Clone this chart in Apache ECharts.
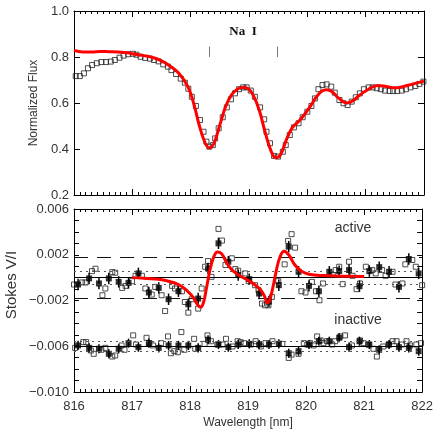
<!DOCTYPE html>
<html>
<head>
<meta charset="utf-8">
<script src="https://cdn.jsdelivr.net/npm/echarts@6.0.0/dist/echarts.min.js"></script>
<style>
  html, body { margin: 0; padding: 0; background: #fff; }
  #main { width: 436px; height: 436px; }
</style>
</head>
<body>
<div id="main"></div>
<script>
// ---- top panel: intensity profile ----
const fluxWl = [816.03,816.10,816.17,816.24,816.31,816.39,816.47,816.55,816.63,816.70,816.78,816.85,816.93,817.01,817.07,817.14,817.22,817.30,817.37,817.45,817.53,817.61,817.67,817.75,817.83,817.90,817.96,818.02,818.09,818.16,818.22,818.27,818.32,818.38,818.42,818.48,818.55,818.62,818.69,818.76,818.83,818.90,818.96,819.03,819.10,819.19,819.26,819.30,819.36,819.43,819.50,819.58,819.63,819.70,819.77,819.85,819.92,820.00,820.07,820.13,820.19,820.26,820.33,820.41,820.47,820.55,820.62,820.69,820.76,820.83,820.90,820.97,821.05,821.12,821.19,821.26,821.33,821.41,821.47,821.54,821.62,821.69,821.77,821.85,821.92,821.99];
const fluxObs = [0.717,0.717,0.729,0.751,0.765,0.773,0.778,0.778,0.780,0.787,0.797,0.806,0.812,0.814,0.810,0.801,0.796,0.793,0.787,0.781,0.768,0.758,0.743,0.726,0.706,0.688,0.662,0.627,0.587,0.526,0.475,0.432,0.410,0.417,0.446,0.490,0.538,0.581,0.616,0.642,0.660,0.668,0.668,0.654,0.627,0.581,0.529,0.475,0.425,0.370,0.367,0.388,0.417,0.461,0.494,0.512,0.538,0.562,0.587,0.620,0.660,0.678,0.681,0.671,0.645,0.613,0.599,0.591,0.606,0.625,0.642,0.660,0.668,0.668,0.664,0.660,0.654,0.652,0.652,0.652,0.654,0.660,0.668,0.674,0.683,0.693];
const fluxModelWl = [816.00,816.15,816.30,816.45,816.60,816.75,816.90,817.05,817.20,817.35,817.50,817.65,817.80,817.95,818.05,818.15,818.25,818.32,818.40,818.50,818.60,818.70,818.80,818.90,818.98,819.08,819.18,819.28,819.38,819.46,819.54,819.64,819.74,819.85,819.95,820.05,820.15,820.25,820.33,820.42,820.52,820.62,820.68,820.78,820.90,821.05,821.20,821.35,821.50,821.65,821.80,822.00];
const fluxModel = [0.828,0.822,0.822,0.824,0.823,0.822,0.818,0.812,0.806,0.798,0.783,0.760,0.728,0.672,0.600,0.500,0.425,0.405,0.425,0.505,0.585,0.635,0.660,0.667,0.663,0.630,0.565,0.470,0.390,0.362,0.375,0.440,0.492,0.520,0.550,0.585,0.625,0.652,0.658,0.650,0.625,0.605,0.600,0.610,0.635,0.660,0.676,0.672,0.666,0.672,0.682,0.695];
const naLines = [818.32, 819.49];

// ---- bottom panel: Stokes V/I, in units of 1e-3 ----
const binWl = [816.07,816.26,816.43,816.60,816.77,816.94,817.11,817.29,817.46,817.63,817.80,817.97,818.14,818.31,818.49,818.66,818.83,819.02,819.19,819.36,819.53,819.70,819.87,820.05,820.22,820.40,820.57,820.74,820.92,821.09,821.26,821.43,821.60,821.77,821.94];
const activeBin = [-0.60,-0.07,-0.51,-0.07,-0.37,-0.46,0.37,-1.30,-0.90,-1.89,-1.19,-2.33,-1.83,0.81,3.00,1.39,0.22,-0.13,-1.39,-2.10,-0.66,2.71,0.51,-0.72,-1.19,0.51,0.57,0.66,-0.75,0.57,0.92,0.51,-0.81,1.63,0.37];
const inactiveBin = [-5.93,-6.14,-6.22,-6.66,-6.22,-5.73,-6.08,-5.73,-6.14,-5.93,-5.93,-5.93,-6.14,-5.43,-5.85,-6.08,-5.85,-5.79,-5.85,-5.85,-5.79,-6.61,-6.43,-5.85,-5.56,-5.56,-5.26,-6.08,-5.56,-5.85,-6.31,-5.85,-6.08,-6.14,-6.43];
const activeErr = 0.5;
const inactiveErr = 0.4;

const activeWl = [816.00,816.14,816.20,816.31,816.37,816.49,816.54,816.66,816.71,816.83,816.89,817.00,817.06,817.17,817.23,817.34,817.40,817.51,817.57,817.69,817.74,817.86,817.91,817.97,818.03,818.14,818.20,818.26,818.31,818.37,818.49,818.55,818.61,818.72,818.78,818.83,818.95,819.01,819.12,819.18,819.24,819.29,819.35,819.41,819.52,819.63,819.69,819.75,819.81,819.92,819.99,820.10,820.17,820.23,820.29,820.46,820.51,820.57,820.63,820.74,820.80,820.87,820.93,821.03,821.14,821.20,821.31,821.37,821.49,821.54,821.66,821.71,821.83,821.89,822.00];
const activeRaw = [-0.60,-0.42,-0.42,0.57,0.78,-1.54,-0.95,0.48,0.43,-0.90,-0.72,-0.31,0.16,0.16,-0.95,-1.48,-0.81,-1.54,-2.92,-0.72,-0.95,-1.19,-2.13,-3.06,-1.89,-2.71,-0.95,0.95,1.45,0.07,4.26,3.24,1.10,1.69,0.75,0.60,0.37,-0.31,-0.66,-1.10,-2.27,-2.42,-2.42,-1.69,-0.31,1.16,3.21,3.80,2.62,-1.19,-1.30,-0.37,-1.19,-1.98,-0.51,0.22,0.66,0.95,-0.57,1.39,0.16,-1.01,-0.51,0.95,0.66,0.37,0.66,0.16,0.51,-0.60,-0.51,1.16,1.54,0.95,-0.66];
const inactiveWl = [816.02,816.16,816.21,816.29,816.34,816.47,816.54,816.66,816.71,816.82,816.87,817.02,817.07,817.25,817.30,817.36,817.50,817.62,817.67,817.73,817.79,817.85,817.90,818.07,818.09,818.25,818.30,818.36,818.47,818.56,818.62,818.73,818.82,818.87,818.93,819.05,819.13,819.22,819.30,819.42,819.59,819.70,819.75,819.87,819.96,820.02,820.07,820.13,820.19,820.25,820.30,820.36,820.45,820.50,820.59,820.67,820.79,820.93,820.99,821.07,821.16,821.22,821.33,821.42,821.49,821.56,821.65,821.73,821.79,821.90,821.98];
const inactiveRaw = [-6.14,-5.64,-5.64,-6.37,-6.66,-6.31,-6.14,-6.90,-6.81,-5.93,-6.31,-5.05,-5.85,-5.26,-5.73,-5.93,-5.73,-5.14,-6.61,-6.43,-6.52,-4.76,-6.31,-5.35,-6.22,-5.79,-5.05,-5.56,-5.85,-5.85,-5.35,-6.02,-5.56,-5.64,-5.73,-5.85,-5.56,-6.02,-5.73,-5.56,-5.79,-7.02,-6.73,-6.66,-5.73,-5.85,-5.73,-5.93,-5.14,-5.49,-5.73,-5.56,-5.85,-5.56,-5.14,-5.05,-5.93,-5.49,-5.73,-5.85,-6.22,-6.90,-6.02,-5.85,-5.56,-5.56,-5.85,-5.56,-5.93,-5.85,-5.73];

const vModelWl = [817.00,817.20,817.40,817.60,817.80,817.95,818.05,818.12,818.18,818.23,818.28,818.34,818.40,818.47,818.54,818.62,818.70,818.80,818.95,819.10,819.22,819.29,819.33,819.37,819.43,819.49,819.55,819.62,819.70,819.80,819.92,820.05,820.30,820.60,821.00];
const vModel = [0.00,-0.05,-0.12,-0.28,-0.60,-1.15,-1.70,-2.30,-2.60,-2.20,-1.00,0.60,1.70,2.25,2.10,1.40,0.80,0.35,-0.10,-0.55,-1.10,-1.70,-2.20,-2.00,-0.80,0.70,1.80,2.30,2.00,1.15,0.55,0.30,0.18,0.13,0.10];

// reference levels
const activeZero = 0, activeDash = 1.8, activeDot = 0.6;
const inactiveZero = -6, inactiveDotHi = -5.55, inactiveDotLo = -6.4;

const FONT = 'Liberation Sans';
const zip = (a, b) => a.map((v, i) => [v, b[i]]);

const xAxisOf = (grid, pos, labels) => ({
    type: 'value', gridIndex: grid, position: pos,
    min: 816, max: 822, interval: 1,
    axisLine: { show: true, onZero: false, lineStyle: { color: '#000', width: 1 } },
    axisTick: { show: true, inside: true, length: 6, lineStyle: { color: '#000' } },
    minorTick: { show: true, splitNumber: 10, length: 3, lineStyle: { color: '#000' } },
    axisLabel: { show: labels, margin: 8, fontSize: 13, color: '#333', fontFamily: FONT },
    splitLine: { show: false },
    name: labels ? 'Wavelength [nm]' : '',
    nameLocation: 'middle', nameGap: 25,
    nameTextStyle: { fontSize: 12, color: '#333', fontFamily: FONT }
});

const fluxY = (pos, labels) => ({
    type: 'value', gridIndex: 0, position: pos,
    min: 0.2, max: 1.0, interval: 0.2,
    axisLine: { show: true, onZero: false, lineStyle: { color: '#000' } },
    axisTick: { show: true, inside: true, length: 6, lineStyle: { color: '#000' } },
    axisLabel: { show: labels, margin: 5, fontSize: 13, color: '#333', fontFamily: FONT,
        formatter: v => v.toFixed(1) },
    splitLine: { show: false },
    name: labels ? 'Normalized Flux' : '',
    nameLocation: 'middle', nameGap: 28,
    nameTextStyle: { fontSize: 12, color: '#333', fontFamily: FONT }
});

const stokesY = (pos, labels) => ({
    type: 'value', gridIndex: 1, position: pos,
    min: -10, max: 6, interval: 1,
    axisLine: { show: true, onZero: false, lineStyle: { color: '#000' } },
    axisTick: { show: true, inside: true, length: 5, lineStyle: { color: '#000' } },
    axisLabel: { show: labels, margin: 5, fontSize: 13, color: '#333', fontFamily: FONT,
        showMinLabel: true, showMaxLabel: true,
        formatter: v => {
            const r = Math.round(v);
            if ((r + 10) % 4 !== 0) return '';
            const s = (Math.abs(r) / 1000).toFixed(3);
            return r < 0 ? '\u2212' + s : s;
        } },
    splitLine: { show: false }
});

const hollow = { color: 'rgba(0,0,0,0)', borderColor: '#222', borderWidth: 1 };

const errorBars = (data, err) => ({
    type: 'custom', xAxisIndex: 2, yAxisIndex: 2, z: 3,
    data: data.map(d => [d[0], d[1], err]),
    encode: { x: 0, y: 1 },
    renderItem: (params, api) => {
        const x = api.value(0), y = api.value(1), e = api.value(2);
        const p1 = api.coord([x, y + e]);
        const p2 = api.coord([x, y - e]);
        return { type: 'line', shape: { x1: p1[0], y1: p1[1], x2: p2[0], y2: p2[1] },
            style: { stroke: '#000', lineWidth: 1.5 } };
    }
});

const refLine = (y, type, color) => ({ yAxis: y, lineStyle: { type: type, color: color, width: 1 } });

const option = {
    animation: false,
    grid: [
        { left: 74, right: 12, top: 11, height: 184 },
        { left: 74, right: 12, top: 209, height: 183 }
    ],
    xAxis: [xAxisOf(0, 'bottom', false), xAxisOf(0, 'top', false), xAxisOf(1, 'bottom', true), xAxisOf(1, 'top', false)],
    yAxis: [fluxY('left', true), fluxY('right', false), stokesY('left', true), stokesY('right', false)],
    series: [
        {
            type: 'scatter', xAxisIndex: 0, yAxisIndex: 0, z: 2,
            symbol: 'rect', symbolSize: 5, itemStyle: hollow,
            data: zip(fluxWl, fluxObs),
            markLine: {
                silent: true, symbol: 'none', label: { show: false },
                lineStyle: { color: '#777', width: 1, type: 'solid' },
                data: naLines.map(w => [{ coord: [w, 0.80] }, { coord: [w, 0.845] }])
            }
        },
        {
            type: 'line', xAxisIndex: 0, yAxisIndex: 0, z: 5,
            showSymbol: false, smooth: 0.4,
            lineStyle: { color: '#ff0000', width: 3 },
            data: zip(fluxModelWl, fluxModel)
        },
        {
            type: 'scatter', xAxisIndex: 2, yAxisIndex: 2, z: 2,
            symbol: 'rect', symbolSize: 5, itemStyle: hollow,
            data: zip(activeWl, activeRaw),
            markLine: {
                silent: true, symbol: 'none', label: { show: false },
                data: [
                    refLine(activeZero, 'solid', '#000'),
                    refLine(activeDash, [14, 9], '#111'),
                    refLine(-activeDash, [14, 9], '#111'),
                    refLine(activeDot, [2, 4], '#555'),
                    refLine(-activeDot, [2, 4], '#555'),
                    refLine(inactiveZero, 'solid', '#000'),
                    refLine(inactiveDotHi, [2, 4], '#555'),
                    refLine(inactiveDotLo, [2, 4], '#555')
                ]
            }
        },
        {
            type: 'scatter', xAxisIndex: 2, yAxisIndex: 2, z: 2,
            symbol: 'rect', symbolSize: 5, itemStyle: hollow,
            data: zip(inactiveWl, inactiveRaw)
        },
        errorBars(zip(binWl, activeBin), activeErr),
        errorBars(zip(binWl, inactiveBin), inactiveErr),
        {
            type: 'scatter', xAxisIndex: 2, yAxisIndex: 2, z: 4,
            symbol: 'rect', symbolSize: 6, itemStyle: { color: '#000' },
            data: zip(binWl, activeBin)
        },
        {
            type: 'scatter', xAxisIndex: 2, yAxisIndex: 2, z: 4,
            symbol: 'rect', symbolSize: 6, itemStyle: { color: '#000' },
            data: zip(binWl, inactiveBin)
        },
        {
            type: 'line', xAxisIndex: 2, yAxisIndex: 2, z: 6,
            showSymbol: false, smooth: 0.4,
            lineStyle: { color: '#ff0000', width: 3 },
            data: zip(vModelWl, vModel)
        }
    ],
    graphic: [
        { type: 'text', x: 243, y: 32, style: { text: 'Na  I', align: 'center', verticalAlign: 'middle',
            font: 'bold 13px "Liberation Serif"', fill: '#111' } },
        { type: 'text', x: 353, y: 228, style: { text: 'active', align: 'center', verticalAlign: 'middle',
            font: '14px "Liberation Sans"', fill: '#333' } },
        { type: 'text', x: 358, y: 320, style: { text: 'inactive', align: 'center', verticalAlign: 'middle',
            font: '14px "Liberation Sans"', fill: '#333' } },
        { type: 'text', x: 12, y: 285, rotation: Math.PI / 2, style: { text: 'Stokes V/I', align: 'center',
            verticalAlign: 'middle', font: '15px "Liberation Sans"', fill: '#333' } }
    ]
};

const chart = echarts.init(document.getElementById('main'));
chart.setOption(option);
</script>
</body>
</html>
